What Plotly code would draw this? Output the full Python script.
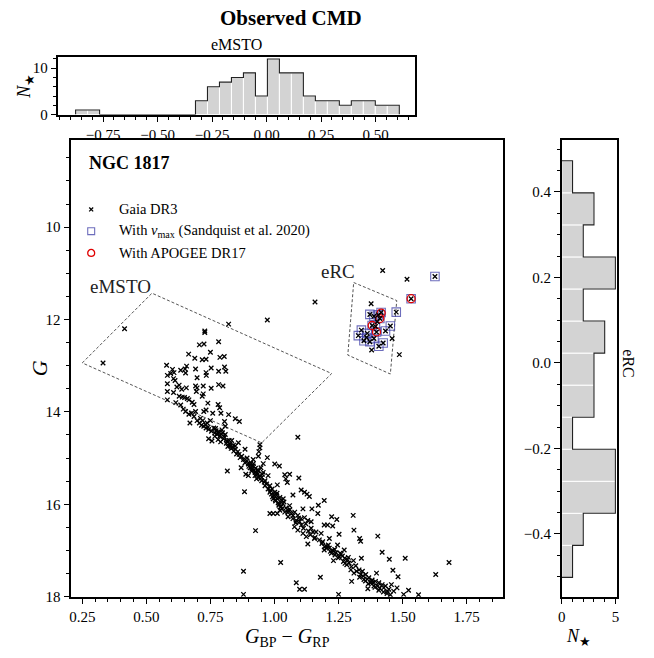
import plotly.graph_objects as go

# ---------------- data ----------------
# Gaia DR3 stars (colour BP-RP, magnitude G)
gaia_bprp = [
    0.415, 0.331, 1.158, 1.091, 0.972, 0.821,
    0.728, 0.728, 0.782, 0.707, 0.725, 0.750, 0.665, 0.689, 0.718, 0.733, 0.787, 0.804,
    0.579, 0.602, 0.634, 0.651, 0.657, 0.692, 0.753, 0.805, 0.582, 0.595, 0.608, 0.653,
    0.733, 0.734, 0.782, 0.810, 0.698, 0.612, 0.606, 0.582, 0.619, 0.628, 0.638, 0.656,
    0.692, 0.698, 0.722, 0.753, 0.782, 0.799, 0.582, 0.606, 0.695, 0.722, 0.718, 0.628,
    0.640, 0.649, 0.660, 0.666, 0.679, 0.686, 0.582, 0.615, 0.634, 0.740, 0.780, 0.786,
    0.644, 0.653, 0.666, 0.676, 0.686, 0.692, 0.724, 0.733, 0.759, 0.791, 0.821, 0.847,
    0.863, 0.670, 0.698, 0.707, 0.715, 0.724, 0.733, 0.743, 0.754, 0.767, 0.776, 0.786,
    0.805, 0.808, 0.801, 0.814, 0.823, 0.743, 0.756, 0.767, 0.737, 0.750, 0.859,
    0.711, 0.720, 0.731, 0.741, 0.763, 0.772, 0.782, 0.792, 0.795, 0.780, 0.790, 0.808,
    0.943, 0.943, 0.939, 0.937, 0.827, 0.836, 0.847, 0.857, 0.862, 0.872, 0.885, 0.879,
    0.892, 0.898, 0.908, 0.917, 0.917, 0.926, 0.937, 0.947, 0.956, 0.972, 1.001, 1.019,
    0.816, 0.870, 0.888, 0.898, 0.924, 0.930, 0.950, 0.963, 0.969, 0.982, 0.956, 0.975,
    0.991, 1.001, 1.011, 0.988, 1.008, 1.021, 1.027, 1.033, 1.024, 1.040, 1.059, 1.044,
    1.050, 1.095, 0.883, 1.072, 1.104, 1.117, 1.127, 1.136, 1.194, 1.171, 1.146, 1.111,
    1.059, 1.053, 1.066, 1.079, 1.091, 1.104, 0.982, 0.995, 1.011, 1.169, 1.223, 1.243,
    1.130, 1.143, 1.117,
    0.905, 0.911, 0.924, 0.934, 0.943, 0.963, 0.975, 0.995, 1.004, 1.014, 1.021, 1.040,
    1.053, 1.072, 1.085, 1.098,
    0.831, 0.841, 0.852, 0.866, 0.847, 0.911, 0.921, 0.930, 0.939, 0.950,
    0.982, 0.999, 1.011, 1.017, 1.030, 1.037,
    1.307, 1.194, 1.207, 1.227, 1.252, 1.310, 1.332, 1.336, 1.403, 1.130, 1.156, 1.175,
    1.188, 1.201, 1.214, 1.227, 1.240, 1.246, 1.256, 1.265, 1.274, 1.285, 1.230, 1.291,
    1.308, 1.317, 1.339, 1.330, 1.343, 1.356, 1.368, 1.381, 1.394, 1.398, 1.407, 1.420,
    1.433, 1.456, 1.478, 1.465, 1.420, 1.448, 1.462, 1.482, 1.510, 1.523, 1.562, 1.504,
    1.629, 1.681, 1.179, 1.301, 1.364, 1.407, 1.439, 1.452, 1.250, 1.085, 1.098, 1.117,
    1.375, 1.388, 1.349, 1.310, 1.298,
    1.143, 1.162, 1.182, 1.214, 1.194, 1.272,
    1.205, 1.218, 1.236, 1.252, 1.269, 1.282, 1.336, 1.362, 1.385, 1.403, 1.426, 1.446,
    1.078, 1.091, 1.111, 1.124,
    0.926, 1.024, 0.879, 0.879,
    0.770, 0.778, 0.788, 0.797, 0.805, 0.812, 0.826, 0.833, 0.818, 0.840,
    0.885, 0.893, 0.900, 0.912, 0.918, 0.927, 0.935, 0.944, 0.953, 0.960,
    0.985, 0.992, 1.003, 1.010, 1.018, 1.026, 1.034, 1.045, 1.052, 1.060,
    1.072, 1.083, 1.094, 1.105, 1.113, 1.122, 1.132, 1.140, 1.150, 1.158,
    1.185, 1.195, 1.210, 1.222, 1.235, 1.248, 1.260, 1.275, 1.288, 1.300,
    1.320, 1.332, 1.345, 1.355, 1.366, 1.378, 1.392, 1.410, 1.425, 1.440,
    1.422, 1.517, 1.626, 1.533, 1.377, 1.475, 1.416, 1.411, 1.388, 1.372, 1.381, 1.398,
    1.452, 1.433, 1.339, 1.327, 1.359, 1.372, 1.388, 1.424, 1.407, 1.379, 1.487, 1.349,
    1.362, 1.401, 1.394, 1.459, 1.405,
]
gaia_g = [
    12.20, 12.94, 11.62, 14.55, 12.01, 12.10,
    12.25, 12.28, 12.48, 12.55, 12.53, 12.71, 12.75, 12.84, 12.87, 12.86, 12.82, 12.80,
    12.99, 13.08, 13.10, 13.07, 13.01, 13.07, 13.05, 13.03, 13.21, 13.17, 13.15, 13.16,
    13.15, 13.21, 13.12, 13.12, 13.26, 13.32, 13.28, 13.39, 13.46, 13.42, 13.51, 13.48,
    13.44, 13.48, 13.44, 13.49, 13.41, 13.44, 13.56, 13.58, 13.56, 13.61, 13.66, 13.66,
    13.68, 13.69, 13.71, 13.74, 13.79, 13.84, 13.74, 13.80, 13.85, 13.81, 13.84, 13.91,
    13.94, 13.99, 14.05, 14.03, 14.10, 13.99, 13.99, 13.96, 14.03, 14.03, 14.06, 14.15,
    14.21, 14.24, 14.19, 14.24, 14.29, 14.31, 14.35, 14.38, 14.42, 14.46, 14.49, 14.53,
    14.21, 14.31, 14.58, 14.63, 14.62, 14.58, 14.63, 14.53, 14.24, 14.19, 14.67,
    14.14, 14.19, 14.28, 14.33, 14.35, 14.41, 14.43, 14.48, 14.39, 14.60, 14.65, 14.49,
    14.71, 14.78, 14.86, 14.96, 14.74, 14.78, 14.81, 14.86, 14.92, 14.96, 14.81, 15.03,
    15.06, 15.13, 15.10, 15.03, 15.17, 15.22, 15.28, 15.21, 15.12, 14.99, 15.13, 15.17,
    15.28, 15.21, 15.35, 15.38, 15.38, 15.45, 15.42, 15.49, 15.56, 15.60, 15.31, 15.38,
    15.67, 15.74, 15.58, 15.78, 15.81, 15.85, 15.92, 15.99, 16.06, 15.36, 15.35, 15.45,
    15.53, 15.43, 15.73, 15.80, 15.69, 15.74, 15.78, 15.83, 15.92, 16.02, 16.10, 16.10,
    16.03, 16.13, 16.20, 16.17, 16.24, 16.31, 16.20, 16.20, 16.20, 16.20, 16.27, 16.33,
    16.35, 16.38, 16.29,
    15.21, 15.28, 15.31, 15.35, 15.38, 15.60, 15.67, 15.88, 15.93, 15.97, 16.13, 16.17,
    16.27, 16.31, 16.35, 16.38,
    14.79, 14.85, 14.91, 14.99, 14.74, 15.17, 15.26, 15.33, 15.42, 15.49,
    15.74, 15.81, 15.88, 16.02, 16.10, 15.95,
    16.24, 16.45, 16.45, 16.47, 16.65, 16.56, 16.74, 16.80, 16.69, 16.86, 16.74, 16.77,
    16.81, 16.90, 16.95, 17.00, 17.05, 16.88, 17.06, 17.12, 17.17, 17.20, 17.22, 17.27,
    17.22, 17.33, 17.17, 17.42, 17.45, 17.52, 17.59, 17.64, 17.67, 17.49, 17.70, 17.74,
    17.77, 17.74, 17.81, 17.88, 17.04, 17.19, 17.43, 17.57, 17.17, 17.86, 17.96, 17.95,
    17.52, 17.26, 17.58, 17.67, 17.83, 17.86, 17.93, 17.96, 17.95, 17.70, 17.84, 17.84,
    17.70, 17.77, 17.63, 17.49, 17.42,
    16.52, 16.60, 16.63, 16.74, 16.99, 16.99,
    16.95, 17.02, 17.10, 17.14, 17.24, 17.31, 17.52, 17.62, 17.70, 17.77, 17.81, 17.84,
    16.49, 16.56, 16.63, 16.70,
    16.57, 17.26, 17.45, 17.95,
    14.36, 14.44, 14.52, 14.45, 14.55, 14.68, 14.70, 14.62, 14.75, 14.72,
    15.10, 15.00, 15.18, 15.24, 15.12, 15.30, 15.25, 15.45, 15.35, 15.52,
    15.70, 15.84, 15.90, 15.76, 16.00, 16.05, 15.88, 16.08, 16.18, 16.12,
    16.25, 16.40, 16.30, 16.45, 16.52, 16.42, 16.58, 16.66, 16.60, 16.72,
    16.85, 16.92, 16.88, 17.06, 16.98, 17.16, 17.08, 17.28, 17.15, 17.35,
    17.45, 17.58, 17.55, 17.66, 17.72, 17.68, 17.80, 17.82, 17.90, 17.88,
    10.94, 11.13, 11.07, 11.55, 11.66, 11.84, 11.85, 11.98, 11.93, 11.89, 12.13, 12.27,
    12.14, 12.25, 12.23, 12.35, 12.39, 12.48, 12.41, 12.51, 12.58, 12.66, 12.76, 12.46,
    12.30, 12.05, 12.15, 12.41, 11.90,
]

# stars with nu_max (Sandquist et al. 2020)
numax_bprp = [1.626, 1.533, 1.475, 1.416, 1.411, 1.388, 1.372, 1.381, 1.398, 1.452, 1.433,
              1.339, 1.327, 1.359, 1.372, 1.388, 1.424, 1.407, 1.349, 1.362, 1.394, 1.405]
numax_g = [11.07, 11.55, 11.84, 11.85, 11.98, 11.93, 11.89, 12.13, 12.27, 12.14, 12.25,
           12.23, 12.35, 12.39, 12.48, 12.41, 12.51, 12.58, 12.46, 12.30, 12.15, 11.90]

# stars with APOGEE DR17
apogee_bprp = [1.533, 1.416, 1.411, 1.381, 1.398]
apogee_g = [11.55, 11.86, 11.98, 12.13, 12.27]

# selection boxes
emsto_box_bprp = [0.250, 0.522, 1.223, 0.950]
emsto_box_g = [12.94, 11.43, 13.17, 14.67]
erc_box_bprp = [1.309, 1.477, 1.452, 1.286]
erc_box_g = [11.20, 11.59, 13.18, 12.77]

# eMSTO histogram
emsto_edges = [-0.876 + 0.055 * i for i in range(28)]
emsto_counts = [1, 1, 0, 0, 0, 0, 0, 0, 0, 0, 3, 6, 7, 8, 9, 4, 12, 9, 9, 4, 3, 3, 2, 3, 3, 2, 2]

# eRC histogram (bottom to top)
erc_edges = [-0.502 + 0.075 * i for i in range(14)]
erc_counts = [1, 2, 5, 5, 1, 3, 3, 4, 2, 5, 2, 3, 1]

main_xticks = [0.25, 0.50, 0.75, 1.00, 1.25, 1.50, 1.75]
main_yticks = [10, 12, 14, 16, 18]
top_xticks = [-0.75, -0.50, -0.25, 0.00, 0.25, 0.50]
top_yticks = [0, 10]
right_yticks = [-0.4, -0.2, 0.0, 0.2, 0.4]
right_xticks = [0, 5]

# ---------------- layout helpers ----------------
W, H = 654, 658
FONT = "Liberation Serif"


def fx(px):
    return px / W


def fy(py):
    return 1 - py / H


def step_path(edges, counts):
    xs, ys = [edges[0]], [0]
    for i, c in enumerate(counts):
        xs += [edges[i], edges[i + 1]]
        ys += [c, c]
    xs.append(edges[-1])
    ys.append(0)
    return xs, ys


fig = go.Figure()

# main CMD
fig.add_trace(go.Scatter(x=emsto_box_bprp + emsto_box_bprp[:1], y=emsto_box_g + emsto_box_g[:1],
                         mode="lines", line=dict(color="#555555", width=1, dash="3px,2px"),
                         xaxis="x", yaxis="y", hoverinfo="skip"))
fig.add_trace(go.Scatter(x=erc_box_bprp + erc_box_bprp[:1], y=erc_box_g + erc_box_g[:1],
                         mode="lines", line=dict(color="#555555", width=1, dash="3px,2px"),
                         xaxis="x", yaxis="y", hoverinfo="skip"))
fig.add_trace(go.Scatter(x=numax_bprp, y=numax_g, mode="markers",
                         marker=dict(symbol="square-open", size=8.5, color="rgba(60,60,165,0.75)",
                                     line=dict(width=1.1)),
                         xaxis="x", yaxis="y"))
fig.add_trace(go.Scatter(x=apogee_bprp, y=apogee_g, mode="markers",
                         marker=dict(symbol="circle-open", size=8, color="#e00000",
                                     line=dict(width=1.3)),
                         xaxis="x", yaxis="y"))
fig.add_trace(go.Scatter(x=gaia_bprp, y=gaia_g, mode="markers",
                         marker=dict(symbol="x-thin", size=4.5,
                                     line=dict(width=1.3, color="black")),
                         xaxis="x", yaxis="y"))

# top histogram
e_centers = [(emsto_edges[i] + emsto_edges[i + 1]) / 2 for i in range(len(emsto_counts))]
fig.add_trace(go.Bar(x=e_centers, y=emsto_counts, width=0.055,
                     marker=dict(color="#d3d3d3", line=dict(color="white", width=1)),
                     xaxis="x2", yaxis="y2"))
sx, sy = step_path(emsto_edges, emsto_counts)
fig.add_trace(go.Scatter(x=sx, y=sy, mode="lines", line=dict(color="#222222", width=1.1),
                         xaxis="x2", yaxis="y2"))

# right histogram
r_centers = [(erc_edges[i] + erc_edges[i + 1]) / 2 for i in range(len(erc_counts))]
fig.add_trace(go.Bar(y=r_centers, x=erc_counts, width=0.075, orientation="h",
                     marker=dict(color="#d3d3d3", line=dict(color="white", width=1)),
                     xaxis="x3", yaxis="y3"))
ry, rx = step_path(erc_edges, erc_counts)
fig.add_trace(go.Scatter(x=rx, y=ry, mode="lines", line=dict(color="#222222", width=1.1),
                         xaxis="x3", yaxis="y3"))

axis_common = dict(showline=True, linecolor="black", linewidth=1.6, mirror=True,
                   ticks="outside", ticklen=6, tickwidth=1.2, tickcolor="black",
                   showgrid=False, zeroline=False,
                   tickfont=dict(family=FONT, size=15, color="black"))

fig.update_layout(
    width=W, height=H, margin=dict(l=0, r=0, t=0, b=0),
    paper_bgcolor="white", plot_bgcolor="white", showlegend=False,
    font=dict(family=FONT, color="black"),
    xaxis=dict(domain=[fx(68), fx(504)], range=[0.2075, 1.893], anchor="y",
               tickvals=main_xticks, tickformat=".2f",
               minor=dict(dtick=0.05, tick0=0, ticks="outside", ticklen=3.5, tickwidth=1, tickcolor="black"),
               **axis_common),
    yaxis=dict(domain=[fy(604), fy(142)], range=[18, 8.12], anchor="x",
               tickvals=main_yticks,
               minor=dict(dtick=0.5, tick0=0, ticks="outside", ticklen=3.5, tickwidth=1, tickcolor="black"),
               **axis_common),
    xaxis2=dict(domain=[fx(55), fx(415)], range=[-0.9545, 0.682], anchor="y2",
                tickvals=top_xticks, tickformat=".2f",
                minor=dict(dtick=0.05, tick0=0, ticks="outside", ticklen=3.5, tickwidth=1, tickcolor="black"),
                **axis_common),
    yaxis2=dict(domain=[fy(116), fy(58)], range=[0, 12.36], anchor="x2",
                tickvals=top_yticks,
                minor=dict(dtick=2, tick0=0, ticks="outside", ticklen=3.5, tickwidth=1, tickcolor="black"),
                **axis_common),
    xaxis3=dict(domain=[fx(563), fx(619)], range=[0, 5.18], anchor="y3",
                tickvals=right_xticks,
                minor=dict(dtick=1, tick0=0, ticks="outside", ticklen=3.5, tickwidth=1, tickcolor="black"),
                **axis_common),
    yaxis3=dict(domain=[fy(604), fy(142)], range=[-0.547, 0.521], anchor="x3",
                tickvals=right_yticks, tickformat=".1f",
                minor=dict(dtick=0.05, tick0=0, ticks="outside", ticklen=3.5, tickwidth=1, tickcolor="black"),
                **axis_common),
)


def ann(text, px, py, size, angle=0, xanchor="center", bold=False):
    fig.add_annotation(text=f"<b>{text}</b>" if bold else text, x=fx(px), y=fy(py),
                       xref="paper", yref="paper", showarrow=False, textangle=angle,
                       xanchor=xanchor, yanchor="middle",
                       font=dict(family=FONT, size=size, color="black"))


ann("Observed CMD", 290, 18, 21, bold=True)
ann("eMSTO", 235, 45, 16)
ann("<i>N</i><sub>★</sub>", 22, 87, 18, angle=-90)
ann("<i>G</i>", 36, 373, 22, angle=-90)
ann("<i>G</i><sub>BP</sub> − <i>G</i><sub>RP</sub>", 286, 645, 20)
ann("<i>N</i><sub>★</sub>", 580, 645, 18)
ann("eRC", 630, 368, 16, angle=90)
ann("NGC 1817", 84, 165, 18, xanchor="left", bold=True)

# labels on the CMD in data coordinates
fig.add_annotation(text="eMSTO", x=0.401, y=11.28, xref="x", yref="y", showarrow=False,
                   font=dict(family=FONT, size=19, color="#222222"))
fig.add_annotation(text="eRC", x=1.246, y=10.96, xref="x", yref="y", showarrow=False,
                   font=dict(family=FONT, size=19, color="#222222"))

# legend (drawn manually)
leg_rows = [212, 234, 256]
leg_text = ["Gaia DR3", "With <i>ν</i><sub>max</sub> (Sandquist et al. 2020)", "With APOGEE DR17"]
for t, r in zip(leg_text, leg_rows):
    ann(t, 114, r, 14.5, xanchor="left")
mx = 88
r0 = leg_rows[0]
fig.add_shape(type="line", xref="paper", yref="paper", x0=fx(mx - 2), x1=fx(mx + 2),
              y0=fy(r0 - 2), y1=fy(r0 + 2), line=dict(color="black", width=1.3))
fig.add_shape(type="line", xref="paper", yref="paper", x0=fx(mx - 2), x1=fx(mx + 2),
              y0=fy(r0 + 2), y1=fy(r0 - 2), line=dict(color="black", width=1.3))
r1 = leg_rows[1]
fig.add_shape(type="rect", xref="paper", yref="paper", x0=fx(mx - 3.5), x1=fx(mx + 3.5),
              y0=fy(r1 + 3.5), y1=fy(r1 - 3.5), line=dict(color="rgba(60,60,165,0.75)", width=1.1))
r2 = leg_rows[2]
fig.add_shape(type="circle", xref="paper", yref="paper", x0=fx(mx - 3.5), x1=fx(mx + 3.5),
              y0=fy(r2 + 3.5), y1=fy(r2 - 3.5), line=dict(color="#e00000", width=1.3))

fig.write_html("out.html")
